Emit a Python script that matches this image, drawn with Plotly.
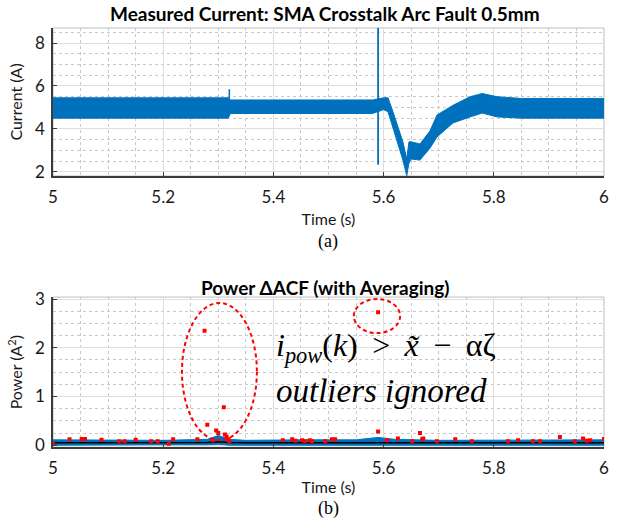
import plotly.graph_objects as go

# ---------------- data ----------------
# Top: envelope of the measured current band
cur_t = [5.0, 5.1, 5.2, 5.3, 5.318, 5.322, 5.4, 5.5, 5.58, 5.6, 5.608, 5.615, 5.624,
         5.635, 5.642, 5.646, 5.650, 5.666, 5.684, 5.697, 5.726, 5.757, 5.779, 5.806,
         5.85, 5.9, 6.0]
cur_upper = [5.45, 5.45, 5.45, 5.45, 5.45, 5.35, 5.35, 5.35, 5.35, 5.45, 5.45, 4.95, 4.2,
             3.4, 2.6, 3.4, 3.4, 3.3, 3.9, 4.65, 5.1, 5.5, 5.65, 5.5, 5.42, 5.42, 5.42]
cur_lower = [4.5, 4.5, 4.48, 4.5, 4.5, 4.72, 4.72, 4.72, 4.72, 4.9, 4.8, 4.3, 3.5,
             2.55, 1.82, 2.4, 2.6, 2.55, 3.1, 3.63, 4.28, 4.56, 4.74, 4.56, 4.5, 4.5, 4.5]
spike1_t = [5.32, 5.32]
spike1_v = [5.3, 5.85]
spike2_t = [5.59, 5.59]
spike2_v = [2.33, 8.7]

# Bottom: power dACF cloud envelope, median line, outliers
pow_t = [5.0, 5.1, 5.2, 5.28, 5.3, 5.32, 5.35, 5.45, 5.55, 5.59, 5.62, 5.7, 5.8, 5.9, 6.0]
pow_upper = [0.11, 0.11, 0.10, 0.12, 0.20, 0.12, 0.10, 0.11, 0.11, 0.16, 0.12, 0.10, 0.10, 0.11, 0.11]
pow_lower = [0.0, 0.0, 0.01, 0.01, 0.02, 0.0, 0.01, 0.0, 0.01, 0.01, 0.0, 0.0, 0.01, 0.0, 0.0]
med_v = [0.05, 0.05, 0.05, 0.055, 0.07, 0.055, 0.05, 0.05, 0.05, 0.06, 0.05, 0.05, 0.05, 0.05, 0.05]

out_t = [5.000, 5.030, 5.052, 5.058, 5.088, 5.120, 5.130, 5.150, 5.178, 5.190, 5.210,
         5.218, 5.262, 5.275, 5.280, 5.290, 5.296, 5.300, 5.310, 5.312, 5.315, 5.318,
         5.320, 5.417, 5.434, 5.440, 5.452, 5.457, 5.466, 5.470, 5.494, 5.506, 5.512,
         5.590, 5.590, 5.606, 5.626, 5.652, 5.666, 5.670, 5.672, 5.697, 5.730, 5.760,
         5.826, 5.844, 5.871, 5.884, 5.920, 5.947, 5.962, 5.969, 5.975, 6.000]
out_v = [0.03, 0.12, 0.13, 0.13, 0.11, 0.08, 0.08, 0.11, 0.08, 0.08, 0.03,
         0.12, 0.12, 2.35, 0.42, 0.10, 0.30, 0.25, 0.78, 0.22, 0.18, 0.12,
         0.08, 0.10, 0.12, 0.09, 0.10, 0.08, 0.10, 0.08, 0.08, 0.12, 0.12,
         2.73, 0.28, 0.10, 0.14, 0.08, 0.25, 0.12, 0.14, 0.08, 0.12, 0.08,
         0.08, 0.10, 0.08, 0.08, 0.17, 0.08, 0.14, 0.09, 0.10, 0.13]

# outlier-group ellipses (x0, x1, y0, y1)
ell_big = [5.234, 5.37, 0.1, 2.92]
ell_small = [5.546, 5.63, 2.3, 3.0]

x_ticks = [5, 5.2, 5.4, 5.6, 5.8, 6]
x_ticklabels = ["5", "5.2", "5.4", "5.6", "5.8", "6"]

BLUE = "rgb(0,114,189)"
RED = "rgb(255,0,0)"
FONT = "Lato"
TXT = "rgb(25,25,25)"

fig = go.Figure()

# top band
fig.add_trace(go.Scatter(x=cur_t + cur_t[::-1], y=cur_upper + cur_lower[::-1],
                         fill="toself", fillcolor=BLUE, mode="lines",
                         line=dict(color=BLUE, width=1), xaxis="x", yaxis="y",
                         hoverinfo="skip", showlegend=False))
fig.add_trace(go.Scatter(x=spike1_t, y=spike1_v, mode="lines",
                         line=dict(color=BLUE, width=1.5), xaxis="x", yaxis="y", showlegend=False))
fig.add_trace(go.Scatter(x=spike2_t, y=spike2_v, mode="lines",
                         line=dict(color=BLUE, width=1.8), xaxis="x", yaxis="y", showlegend=False))

# bottom cloud
fig.add_trace(go.Scatter(x=pow_t + pow_t[::-1], y=pow_upper + pow_lower[::-1],
                         fill="toself", fillcolor=BLUE, mode="lines",
                         line=dict(color=BLUE, width=1), xaxis="x2", yaxis="y2",
                         hoverinfo="skip", showlegend=False))
fig.add_trace(go.Scatter(x=pow_t, y=med_v, mode="lines",
                         line=dict(color="black", width=1.5), xaxis="x2", yaxis="y2", showlegend=False))
fig.add_trace(go.Scatter(x=out_t, y=out_v, mode="markers",
                         marker=dict(color=RED, size=4, symbol="square"),
                         xaxis="x2", yaxis="y2", showlegend=False))

for e in (ell_big, ell_small):
    fig.add_shape(type="circle", xref="x2", yref="y2", x0=e[0], x1=e[1], y0=e[2], y1=e[3],
                  line=dict(color=RED, width=2, dash="4px,3px"))

tickfont = dict(family=FONT, size=17, color=TXT)
titlefont = dict(family=FONT, size=16, color=TXT)

axis_common = dict(
    range=[5, 6], tickvals=x_ticks, ticktext=x_ticklabels,
    showgrid=True, gridcolor="rgb(222,222,222)", gridwidth=1,
    minor=dict(dtick=0.05, showgrid=True, gridcolor="rgb(200,200,200)", griddash="dot", gridwidth=1),
    showline=True, linecolor="rgb(60,60,60)", linewidth=1.5, mirror=False,
    ticks="inside", ticklen=4, tickcolor="rgb(60,60,60)",
    zeroline=False, tickfont=tickfont, ticklabelstandoff=5, automargin=False,
)

fig.update_layout(
    width=623, height=523,
    margin=dict(l=0, r=0, t=0, b=0),
    paper_bgcolor="white", plot_bgcolor="white",
    showlegend=False,
    xaxis=dict(domain=[0.0851, 0.9695], anchor="y",
               title=dict(text="Time (s)", font=titlefont, standoff=8),
               **axis_common),
    yaxis=dict(domain=[0.6635, 0.9465], anchor="x", range=[1.81, 8.7],
               tickvals=[2, 4, 6, 8], showgrid=True, gridcolor="rgb(222,222,222)",
               minor=dict(dtick=0.5, showgrid=True, gridcolor="rgb(200,200,200)", griddash="dot"),
               showline=True, linecolor="rgb(60,60,60)", linewidth=1.5,
               ticks="inside", ticklen=4, tickcolor="rgb(60,60,60)", zeroline=False,
               tickfont=tickfont, ticklabelstandoff=3, automargin=False,
               title=dict(text="Current (A)", font=titlefont, standoff=8)),
    xaxis2=dict(domain=[0.0851, 0.9695], anchor="y2",
                title=dict(text="Time (s)", font=titlefont, standoff=4),
                **axis_common),
    yaxis2=dict(domain=[0.145, 0.432], anchor="x2", range=[-0.04, 3.04],
                tickvals=[0, 1, 2, 3], showgrid=True, gridcolor="rgb(222,222,222)",
                minor=dict(dtick=0.25, showgrid=True, gridcolor="rgb(200,200,200)", griddash="dot"),
                showline=True, linecolor="rgb(60,60,60)", linewidth=1.5,
                ticks="inside", ticklen=4, tickcolor="rgb(60,60,60)", zeroline=False,
                tickfont=tickfont, ticklabelstandoff=3, automargin=False,
                title=dict(text="Power (A<sup>2</sup>)", font=titlefont, standoff=8)),
)

# plot border (light right/top edges)
for xr, yr in (("x domain", "y domain"), ("x2 domain", "y2 domain")):
    fig.add_shape(type="rect", xref=xr, yref=yr, x0=0, x1=1, y0=0, y1=1,
                  line=dict(color="rgb(190,190,190)", width=1), layer="below")

annots = [
    dict(text="<b>Measured Current: SMA Crosstalk Arc Fault 0.5mm</b>", x=0.521, y=1 - 13 / 523,
         font=dict(family=FONT, size=19, color="black")),
    dict(text="<b>Power \u0394ACF (with Averaging)</b>", x=0.523, y=1 - 287 / 523,
         font=dict(family=FONT, size=19, color="black")),
    dict(text="(a)", x=0.527, y=1 - 241 / 523, font=dict(family="Liberation Serif", size=18, color="black")),
    dict(text="(b)", x=0.527, y=1 - 508 / 523, font=dict(family="Liberation Serif", size=18, color="black")),
]
for a in annots:
    fig.add_annotation(xref="paper", yref="paper", showarrow=False, xanchor="center", yanchor="middle", **a)

fig.add_annotation(xref="paper", yref="paper", x=274 / 623, y=1 - 347 / 523, xanchor="left", yanchor="middle",
                   showarrow=False,
                   text="<i>i</i><sub><i>pow</i></sub>(<i>k</i>)\u2009 > \u2009<i>x\u0303</i>\u2009 \u2212 \u2009\u03b1\u03b6",
                   font=dict(family="Liberation Serif", size=32, color="black"))
fig.add_annotation(xref="paper", yref="paper", x=274 / 623, y=1 - 391 / 523, xanchor="left", yanchor="middle",
                   showarrow=False, text="<i>outliers ignored</i>",
                   font=dict(family="Liberation Serif", size=33, color="black"))

fig.write_html("out.html")
